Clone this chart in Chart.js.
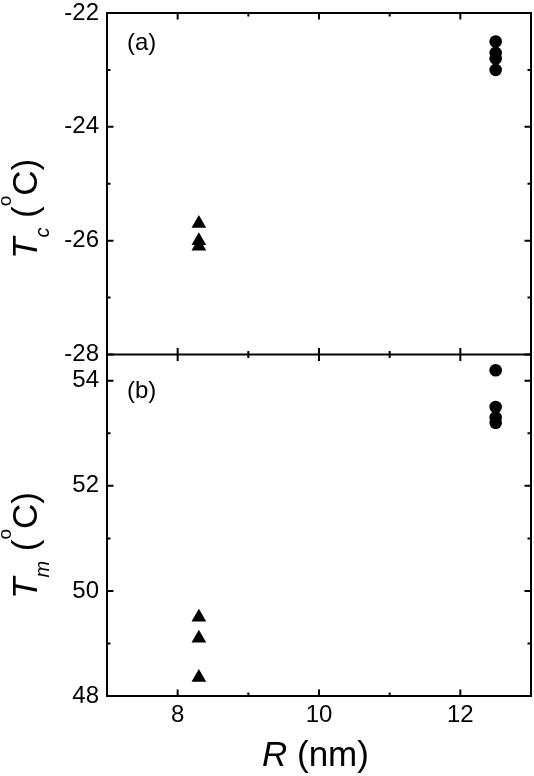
<!DOCTYPE html>
<html>
<head>
<meta charset="utf-8">
<script src="https://cdn.jsdelivr.net/npm/chart.js@4.4.1/dist/chart.umd.min.js"></script>
<style>
html,body{margin:0;padding:0;background:#fff;}
canvas{display:block;}
</style>
</head>
<body>
<canvas id="c" width="534" height="776"></canvas>
<script>
// ---- data ----
const xTicksMajor = [8, 10, 12];
const xTicksMinor = [9, 11];
const tcTicksMajor = [-28, -26, -24, -22];
const tcTicksMinor = [-27, -25, -23];
const tmTicksMajor = [48, 50, 52, 54];
const tmTicksMinor = [49, 51, 53];

const triangleR = [8.3, 8.3, 8.3];
const circleR = [12.5, 12.5, 12.5, 12.5];
const tcTriangle = [-25.70, -26.00, -26.10];
const tcCircle = [-22.50, -22.70, -22.80, -23.00];
const tmTriangle = [49.50, 49.10, 48.35];
const tmCircle = [54.20, 53.50, 53.30, 53.20];

const FONT = '"Liberation Sans", Arial, Helvetica, sans-serif';

function pts(xs, ys) { return xs.map((x, i) => ({x: x, y: ys[i]})); }
function noPad(s) { s.paddingTop = 0; s.paddingBottom = 0; s.paddingLeft = 0; s.paddingRight = 0; }

const framePlugin = {
  id: 'frame',
  afterDraw(chart) {
    const ctx = chart.ctx;
    const a = chart.chartArea;
    const sx = chart.scales.x, yc = chart.scales.yTc, ym = chart.scales.yTm;
    const mid = yc.bottom;
    ctx.save();
    ctx.strokeStyle = '#000';
    ctx.lineWidth = 2;
    ctx.lineCap = 'butt';
    ctx.strokeRect(a.left, a.top, a.right - a.left, a.bottom - a.top);
    ctx.beginPath();
    ctx.moveTo(a.left, mid); ctx.lineTo(a.right, mid);
    ctx.stroke();
    const MAJ = 6.5, MIN = 3.5;
    ctx.beginPath();
    const xt = [...xTicksMajor.map(v => [v, MAJ]), ...xTicksMinor.map(v => [v, MIN])];
    xt.forEach(([v, L]) => {
      const px = sx.getPixelForValue(v);
      ctx.moveTo(px, a.top); ctx.lineTo(px, a.top + L);
      ctx.moveTo(px, mid - L); ctx.lineTo(px, mid + L);
      ctx.moveTo(px, a.bottom); ctx.lineTo(px, a.bottom - L);
    });
    const yt = [
      ...tcTicksMajor.map(v => [yc, v, MAJ]), ...tcTicksMinor.map(v => [yc, v, MIN]),
      ...tmTicksMajor.map(v => [ym, v, MAJ]), ...tmTicksMinor.map(v => [ym, v, MIN])
    ];
    yt.forEach(([s, v, L]) => {
      const py = s.getPixelForValue(v);
      ctx.moveTo(a.left, py); ctx.lineTo(a.left + L, py);
      ctx.moveTo(a.right, py); ctx.lineTo(a.right - L, py);
    });
    ctx.stroke();

    function rich(segs, x, y, rot) {
      ctx.save();
      ctx.translate(x, y);
      ctx.rotate(rot);
      ctx.fillStyle = '#000';
      ctx.textBaseline = 'alphabetic';
      ctx.textAlign = 'left';
      let cx = 0;
      segs.forEach(s => {
        ctx.font = s.font;
        ctx.fillText(s.text, cx, s.dy || 0);
        cx += ctx.measureText(s.text).width;
      });
      ctx.restore();
    }
    const big = '35px ' + FONT, bigI = 'italic 35px ' + FONT;
    const small = '19px ' + FONT, smallI = 'italic 20px ' + FONT;
    rich([
      {text: 'T', font: bigI},
      {text: 'c', font: smallI, dy: 12},
      {text: ' (', font: big},
      {text: 'o', font: small, dy: -26},
      {text: 'C)', font: big}
    ], 37, 259, -Math.PI / 2);
    rich([
      {text: 'T', font: bigI},
      {text: 'm', font: smallI, dy: 12},
      {text: ' (', font: big},
      {text: 'o', font: small, dy: -26},
      {text: 'C)', font: big}
    ], 37, 599, -Math.PI / 2);
    rich([
      {text: 'R', font: 'italic 35px ' + FONT},
      {text: ' (nm)', font: '35px ' + FONT}
    ], 262, 766, 0);
    rich([{text: '(a)', font: '24px ' + FONT}], 127, 50, 0);
    rich([{text: '(b)', font: '24px ' + FONT}], 127, 398, 0);
    ctx.restore();
  }
};

const tickFont = {family: FONT, size: 24};

new Chart(document.getElementById('c'), {
  type: 'scatter',
  data: {
    datasets: [
      {data: pts(triangleR, tcTriangle), yAxisID: 'yTc', pointStyle: 'triangle', pointRadius: 8.5,
       backgroundColor: '#000', borderColor: '#000', borderWidth: 0},
      {data: pts(circleR, tcCircle), yAxisID: 'yTc', pointStyle: 'circle', pointRadius: 6.3,
       backgroundColor: '#000', borderColor: '#000', borderWidth: 0},
      {data: pts(triangleR, tmTriangle), yAxisID: 'yTm', pointStyle: 'triangle', pointRadius: 8.5,
       backgroundColor: '#000', borderColor: '#000', borderWidth: 0},
      {data: pts(circleR, tmCircle), yAxisID: 'yTm', pointStyle: 'circle', pointRadius: 6.3,
       backgroundColor: '#000', borderColor: '#000', borderWidth: 0}
    ]
  },
  options: {
    responsive: false,
    devicePixelRatio: 1,
    animation: false,
    events: [],
    layout: {autoPadding: false, padding: {top: 13, right: 3, left: 0, bottom: 0}},
    plugins: {legend: {display: false}, tooltip: {enabled: false}},
    scales: {
      x: {
        type: 'linear', position: 'bottom', min: 7, max: 13,
        afterBuildTicks: s => { s.ticks = xTicksMajor.map(v => ({value: v})); },
        afterFit: s => { s.height = 80; noPad(s); },
        grid: {display: false, drawTicks: false},
        border: {display: false},
        ticks: {font: tickFont, color: '#000', padding: 5, maxRotation: 0, autoSkip: false}
      },
      yTm: {
        type: 'linear', position: 'left', stack: 'panels', stackWeight: 1, min: 48, max: 54.5,
        afterBuildTicks: s => { s.ticks = tmTicksMajor.map(v => ({value: v})); },
        afterFit: s => { s.width = 107; noPad(s); },
        grid: {display: false, drawTicks: false},
        border: {display: false},
        ticks: {font: tickFont, color: '#000', padding: 8, autoSkip: false}
      },
      yTc: {
        type: 'linear', position: 'left', stack: 'panels', stackWeight: 1, min: -28, max: -22,
        afterBuildTicks: s => { s.ticks = tcTicksMajor.map(v => ({value: v})); },
        afterFit: s => { s.width = 107; noPad(s); },
        grid: {display: false, drawTicks: false},
        border: {display: false},
        ticks: {font: tickFont, color: '#000', padding: 8, autoSkip: false}
      }
    }
  },
  plugins: [framePlugin]
});
</script>
</body>
</html>
